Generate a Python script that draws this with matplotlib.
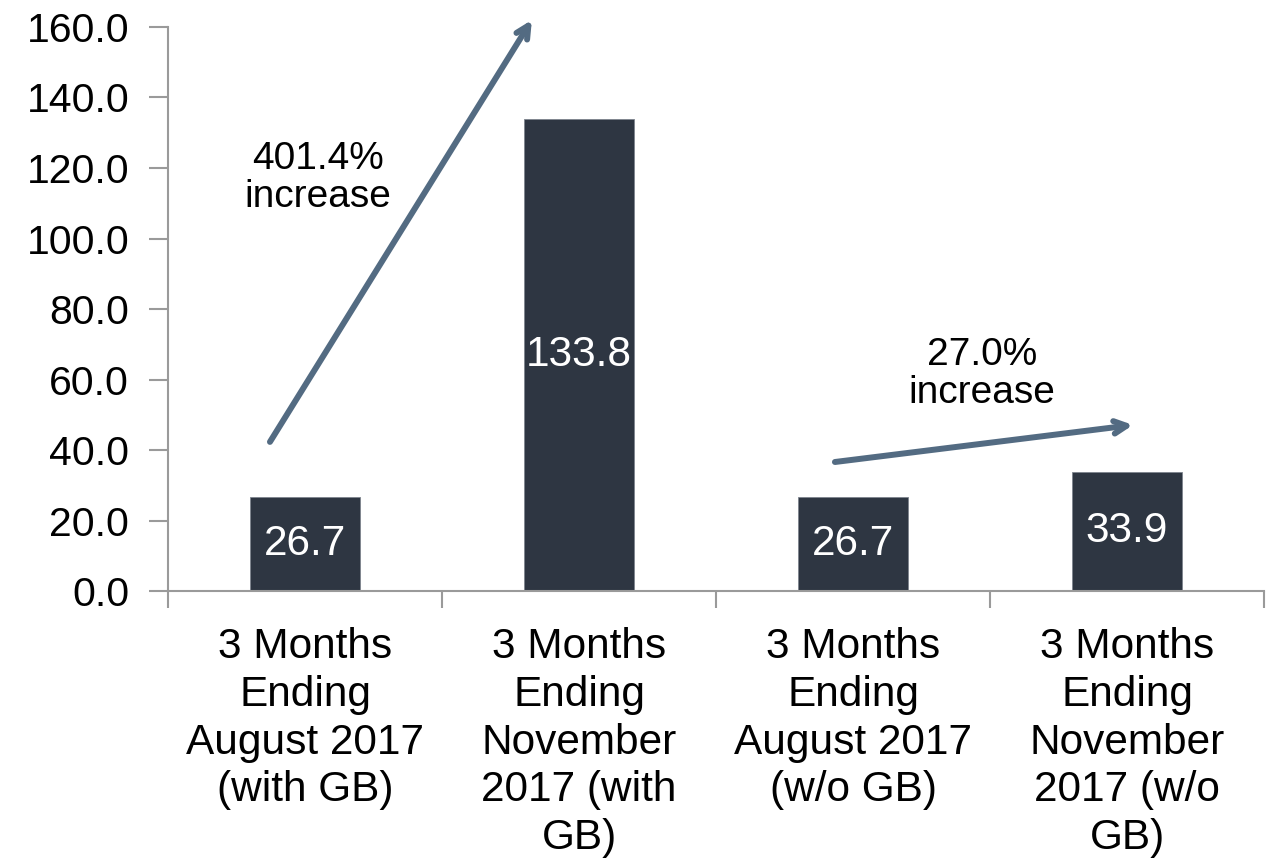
#!/usr/bin/env python3
"""Bar chart: 3-month totals with / without GB, with percent-increase arrows."""
import matplotlib
import numpy as np

matplotlib.use("Agg")
import matplotlib.pyplot as plt  # noqa: E402

plt.rcParams["font.family"] = ["Liberation Sans", "DejaVu Sans"]

categories = [
    "3 Months\nEnding\nAugust 2017\n(with GB)",
    "3 Months\nEnding\nNovember\n2017 (with\nGB)",
    "3 Months\nEnding\nAugust 2017\n(w/o GB)",
    "3 Months\nEnding\nNovember\n2017 (w/o\nGB)",
]
values = [26.7, 133.8, 26.7, 33.9]
yticks = [0, 20, 40, 60, 80, 100, 120, 140, 160]
notes = ["401.4%\nincrease", "27.0%\nincrease"]

BAR = "#2e3642"
ARROW = "#536b82"
AXIS = "#9a9a9a"

fig = plt.figure(figsize=(12.71, 8.68), dpi=100)
ax = fig.add_axes([0.1322, 0.3191, 0.9945 - 0.1322, 0.9689 - 0.3191])

x = np.arange(len(values))
bars = ax.bar(x, values, width=0.4, color=BAR, edgecolor="#7d848d", linewidth=0.6, zorder=2)
ax.bar_label(bars, labels=[f"{v:.1f}" for v in values], label_type="center",
             color="white", fontsize=30.5)

ax.set_xlim(-0.5, len(values) - 0.5)
ax.set_ylim(0, 160)
ax.set_yticks(yticks)
ax.set_yticklabels([f"{v:.1f}" for v in yticks], fontsize=29.5)

# boundary ticks (major, unlabeled) + labels at centers (minor, no mark)
ax.set_xticks(np.arange(-0.5, len(values), 1.0))
ax.set_xticklabels([])
ax.set_xticks(x, minor=True)
ax.set_xticklabels(categories, minor=True, fontsize=30.5, linespacing=1.25)
ax.tick_params(axis="x", which="major", length=12, width=1.5, color=AXIS, direction="out")
ax.tick_params(axis="x", which="minor", length=0, pad=26)
ax.tick_params(axis="y", length=14, width=1.5, color=AXIS, direction="out", pad=14)

for s in ("top", "right"):
    ax.spines[s].set_visible(False)
for s in ("left", "bottom"):
    ax.spines[s].set_color(AXIS)
    ax.spines[s].set_linewidth(1.5)

arrow = dict(arrowstyle="->,head_length=0.9,head_width=0.45", color=ARROW, lw=4.3,
             shrinkA=0, shrinkB=0)
ax.annotate("", xy=(0.828, 162.0), xytext=(-0.128, 42.3), arrowprops=arrow,
            annotation_clip=False)
ax.annotate("", xy=(3.022, 47.1), xytext=(1.934, 36.6), arrowprops=arrow,
            annotation_clip=False)
ax.text(0.047, 117.2, notes[0], ha="center", va="center", fontsize=28, linespacing=1.05)
ax.text(2.471, 61.6, notes[1], ha="center", va="center", fontsize=28, linespacing=1.05)

fig.savefig("out.png", dpi=100)
